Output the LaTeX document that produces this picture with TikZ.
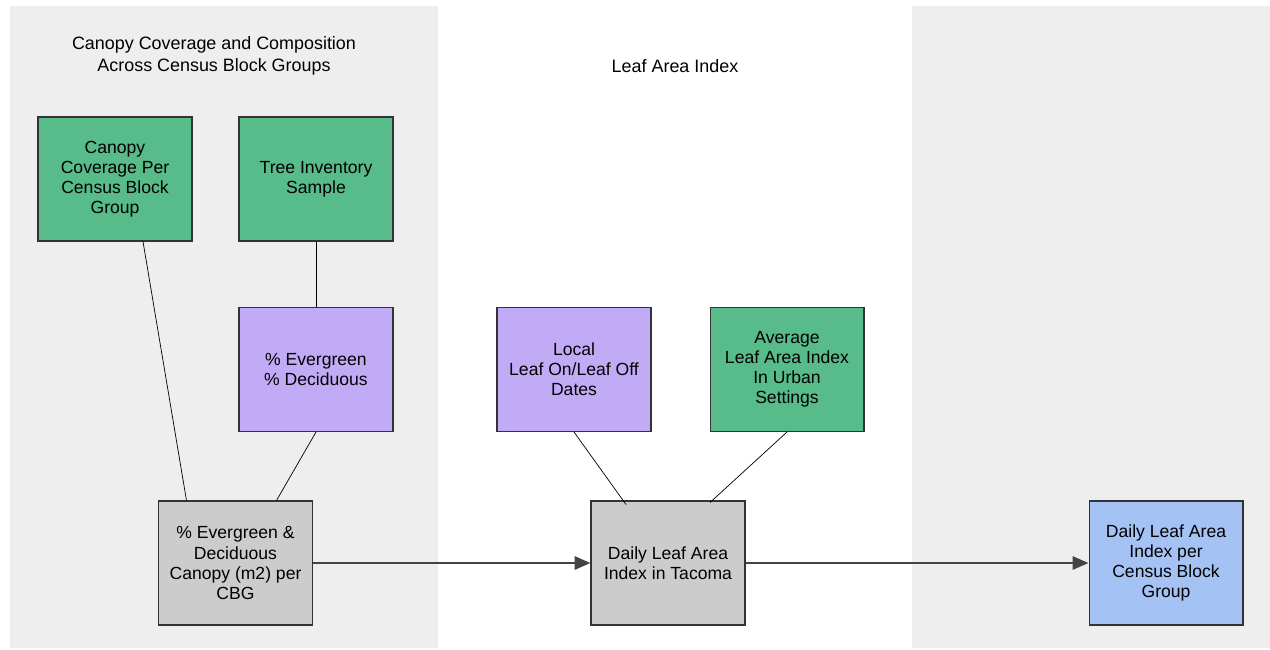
\documentclass[tikz,border=0pt]{standalone}
\usepackage{fontspec}
\setmainfont{Liberation Sans}
\usepackage{xcolor}
\usetikzlibrary{arrows.meta,calc}
\definecolor{panelgray}{HTML}{EEEEEE}
\definecolor{srcgreen}{HTML}{57BB8A}
\definecolor{srcpurple}{HTML}{C1ABF6}
\definecolor{stepgray}{HTML}{CCCCCC}
\definecolor{outblue}{HTML}{A4C2F4}
\definecolor{linegray}{HTML}{444444}
\tikzset{
	box/.style={
			draw=black!80, line width=0.6pt, minimum width=3.08cm, minimum height=2.48cm,
			inner sep=0pt, align=center, font=\fontsize{10}{11.4}\selectfont
		},
	title/.style={align=center, font=\fontsize{10.2}{12.5}\selectfont},
	flow/.style={draw=linegray, line width=1.3pt, -{Triangle[length=9pt,width=7.5pt]}}
}

\begin{document}
\begin{tikzpicture}[x=0.02cm,y=-0.02cm]
            \useasboundingbox (0,0) rectangle (1270,649);
            \fill[panelgray] (10,6) rectangle (438,648);
            \fill[panelgray] (912,6) rectangle (1270,648);
            \node[title] (tleft) at (214,56) {Canopy Coverage and Composition\\Across Census Block Groups};
            \node[title] (tmid) at (675,66) {Leaf Area Index};
            \node[box,fill=srcgreen] (canopy) at (115,179) {Canopy\\Coverage Per\\Census Block\\Group};
            \node[box,fill=srcgreen] (inventory) at (316,179) {Tree Inventory\\Sample};
            \node[box,fill=srcpurple] (split) at (316,369.5) {\% Evergreen\\\% Deciduous};
            \node[box,fill=stepgray] (cbg) at (235.5,563) {\% Evergreen \&\\Deciduous\\Canopy (m2) per\\CBG};
            \node[box,fill=srcpurple] (dates) at (574,369.5) {Local\\Leaf On/Leaf Off\\Dates};
            \node[box,fill=srcgreen] (average) at (787,369.5) {Average\\Leaf Area Index\\In Urban\\Settings};
            \node[box,fill=stepgray] (tacoma) at (668,563) {Daily Leaf Area\\Index in Tacoma};
            \node[box,fill=outblue] (result) at (1166,563) {Daily Leaf Area\\Index per\\Census Block\\Group};
            \draw ($(canopy.south)+(28,0)$) -- ($(cbg.north)+(-49,0)$);
            \draw (inventory) -- (split);
            \draw (split.south) -- ($(cbg.north)+(41,0)$);
            \draw (dates.south) -- ($(tacoma.north)+(-42,4)$);
            \draw (average.south) -- ($(tacoma.north)+(42,2)$);
            \draw[flow] (cbg) -- (tacoma);
            \draw[flow] (tacoma) -- (result);
        \end{tikzpicture}
\end{document}
